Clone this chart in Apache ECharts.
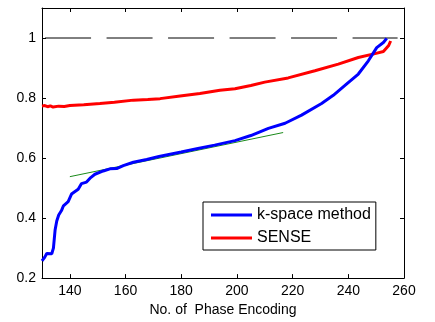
<!DOCTYPE html>
<html>
<head>
<meta charset="utf-8">
<script src="https://cdn.jsdelivr.net/npm/echarts@6/dist/echarts.min.js"></script>
<style>
  html, body { margin: 0; padding: 0; background: #fff; }
  #chart { width: 435px; height: 322px; }
</style>
</head>
<body>
<div id="chart"></div>
<script>
// values
const kspaceX = [130, 131, 131.7, 133.5, 134.1, 134.7, 135.3, 136, 137, 137.7, 139.4, 140.6, 143, 144.2, 146, 147.5, 149, 152, 154.4, 156.8, 159.2, 162.8, 167.6, 172, 180, 186, 192, 199.3, 205, 211.3, 217.3, 223.2, 230.4, 234.6, 238.8, 243.6, 247.2, 250.2, 252.6, 253.8];
const kspaceY = [0.257, 0.27, 0.282, 0.281, 0.30, 0.36, 0.39, 0.41, 0.425, 0.441, 0.455, 0.48, 0.496, 0.515, 0.52, 0.535, 0.546, 0.557, 0.564, 0.565, 0.575, 0.586, 0.595, 0.605, 0.62, 0.632, 0.643, 0.658, 0.675, 0.699, 0.716, 0.743, 0.782, 0.809, 0.842, 0.88, 0.924, 0.968, 0.985, 0.999];
const senseX = [130, 131, 132, 133, 134, 136, 138, 140, 145, 150.8, 156, 162.8, 168, 172.4, 179.6, 186.7, 193.9, 199.3, 205, 210, 218.4, 228, 236.4, 243.6, 249.6, 252.6, 254.5, 255.2];
const senseY = [0.773, 0.775, 0.771, 0.774, 0.770, 0.773, 0.772, 0.775, 0.778, 0.782, 0.786, 0.793, 0.795, 0.798, 0.807, 0.815, 0.826, 0.831, 0.842, 0.853, 0.867, 0.891, 0.913, 0.935, 0.948, 0.955, 0.975, 0.99];
const tangentX = [140, 216.6];
const tangentY = [0.538, 0.685];
const refX = [131.1, 257.7];
const refY = [1, 1];

const FONT = "Liberation Sans";

function pairs(xs, ys) {
  return xs.map((x, i) => [x, ys[i]]);
}

const chart = echarts.init(document.getElementById("chart"), null, { renderer: "canvas" });

const axisLine = { show: true, onZero: false, lineStyle: { color: "#000", width: 1 } };
const axisTick = { show: true, inside: true, length: 4, lineStyle: { color: "#000" } };

chart.setOption({
  animation: false,
  backgroundColor: "#fff",
  grid: { left: 42, right: 31, top: 8, bottom: 42 },
  legend: {
    data: ["k-space method", "SENSE"],
    orient: "vertical",
    left: 203,
    top: 202,
    padding: [5, 5, 4, 8],
    itemGap: 7,
    itemWidth: 41,
    itemHeight: 3,
    icon: "rect",
    borderColor: "#000",
    borderWidth: 1,
    backgroundColor: "#fff",
    textStyle: { fontFamily: FONT, fontSize: 16, color: "#000" },
  },
  xAxis: [
    {
      type: "value",
      min: 130,
      max: 260,
      minInterval: 20,
      maxInterval: 20,
      axisLine,
      axisTick,
      splitLine: { show: false },
      axisLabel: { color: "#000", fontFamily: FONT, fontSize: 14, margin: 6, showMinLabel: false },
      name: "No. of  Phase Encoding",
      nameLocation: "middle",
      nameGap: 23,
      nameTextStyle: { color: "#000", fontFamily: FONT, fontSize: 14 },
    },
    {
      type: "value",
      position: "top",
      min: 130,
      max: 260,
      minInterval: 20,
      maxInterval: 20,
      axisLine,
      axisTick,
      splitLine: { show: false },
      axisLabel: { show: false },
    },
  ],
  yAxis: [
    {
      type: "value",
      min: 0.2,
      max: 1.1,
      interval: 0.2,
      axisLine,
      axisTick,
      splitLine: { show: false },
      axisLabel: { color: "#000", fontFamily: FONT, fontSize: 14, margin: 6, showMaxLabel: false },
    },
    {
      type: "value",
      position: "right",
      min: 0.2,
      max: 1.1,
      interval: 0.2,
      axisLine,
      axisTick,
      splitLine: { show: false },
      axisLabel: { show: false },
    },
  ],
  series: [
    {
      name: "reference",
      type: "line",
      data: pairs(refX, refY),
      symbol: "none",
      lineStyle: { color: "#000", width: 1, type: [46, 15.5] },
      z: 1,
    },
    {
      name: "tangent",
      type: "line",
      data: pairs(tangentX, tangentY),
      symbol: "none",
      lineStyle: { color: "#1a8a1a", width: 1 },
      z: 2,
    },
    {
      name: "SENSE",
      type: "line",
      data: pairs(senseX, senseY),
      symbol: "none",
      itemStyle: { color: "#ff0000" },
      lineStyle: { color: "#ff0000", width: 3 },
      z: 3,
    },
    {
      name: "k-space method",
      type: "line",
      data: pairs(kspaceX, kspaceY),
      symbol: "none",
      itemStyle: { color: "#0000ff" },
      lineStyle: { color: "#0000ff", width: 3 },
      z: 4,
    },
  ],
});
</script>
</body>
</html>
